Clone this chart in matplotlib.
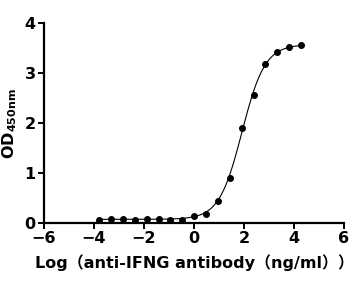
import numpy as np
import matplotlib
matplotlib.use("Agg")
import matplotlib.pyplot as plt

log_conc = [-3.81, -3.33, -2.86, -2.38, -1.90, -1.42, -0.95, -0.47, 0.0, 0.48, 0.95, 1.43, 1.91, 2.39, 2.86, 3.34, 3.82, 4.30]
od450 = [0.07, 0.09, 0.09, 0.07, 0.09, 0.09, 0.07, 0.07, 0.14, 0.19, 0.45, 0.91, 1.91, 2.56, 3.18, 3.42, 3.52, 3.56]
x_ticks = [-6, -4, -2, 0, 2, 4, 6]
y_ticks = [0, 1, 2, 3, 4]

x = np.array(log_conc)
y = np.array(od450)

def model(p, xx):
    bot, top, c, h = p
    return bot + (top - bot) / (1 + 10 ** ((c - xx) * h))

# fit 4PL with simple Levenberg-Marquardt
p = np.array([0.07, 3.6, 1.9, 1.0])
lam = 1e-3
for _ in range(300):
    r = y - model(p, x)
    J = np.zeros((len(x), 4))
    for i in range(4):
        dp = np.zeros(4); dp[i] = 1e-6
        J[:, i] = (model(p + dp, x) - model(p, x)) / 1e-6
    A = J.T @ J
    step = np.linalg.solve(A + lam * np.diag(np.diag(A)), J.T @ r)
    pn = p + step
    if np.sum((y - model(pn, x)) ** 2) < np.sum(r ** 2):
        p = pn; lam *= 0.5
    else:
        lam *= 5

xf = np.linspace(x.min(), x.max(), 400)

fig = plt.figure(figsize=(3.59, 2.85), dpi=100)
ax = fig.add_axes([0.1226, 0.2175, 0.8356, 0.7018])
ax.plot(xf, model(p, xf), color="black", lw=0.8)
ax.plot(x, y, "o", color="black", ms=4.0)
ax.set_xlim(-6, 6)
ax.set_ylim(0, 4)
ax.set_xticks(x_ticks)
ax.set_yticks(y_ticks)
for s in ["top", "right"]:
    ax.spines[s].set_visible(False)
for s in ["left", "bottom"]:
    ax.spines[s].set_linewidth(1.6)
ax.tick_params(width=1.4, length=4, labelsize=11.5, pad=2)
for lab in ax.get_xticklabels() + ax.get_yticklabels():
    lab.set_fontweight("bold")
ax.set_ylabel("OD$_{\\mathbf{450nm}}$", fontsize=11.5, fontweight="bold", labelpad=4)
ax.set_xlabel("Log（anti-IFNG antibody（ng/ml））", fontsize=11.5, fontweight="bold",
              family=["DejaVu Sans", "Noto Sans CJK SC"], labelpad=6)
fig.savefig("out.png", dpi=100)
